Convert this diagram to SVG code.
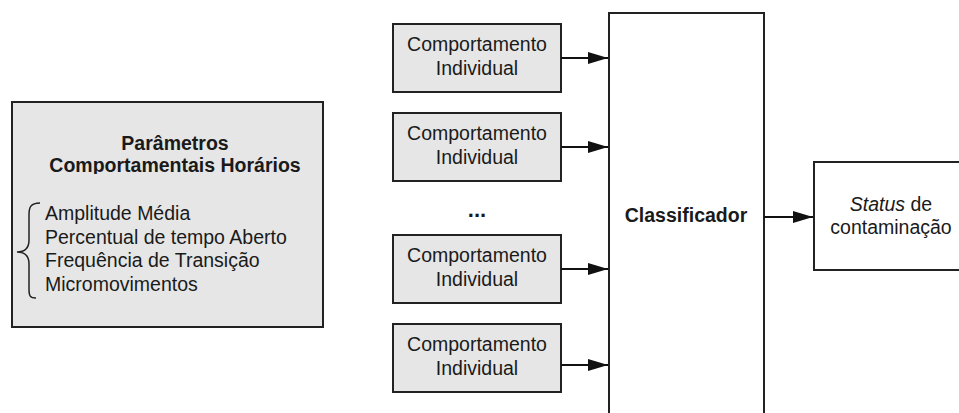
<svg xmlns="http://www.w3.org/2000/svg" width="959" height="413" viewBox="0 0 959 413">
<style>
text{font-family:"Liberation Sans",Arial,sans-serif;fill:#1a1a1a}
.box{fill:#e6e6e6;stroke:#222;stroke-width:2}
.wbox{fill:#fff;stroke:#222;stroke-width:2}
.lbl{font-size:19.5px;text-anchor:middle}
.b{font-weight:bold}
.conn{stroke:#111;stroke-width:2;fill:none}
</style>
<defs>
<marker id="ah" markerWidth="20" markerHeight="12" refX="20" refY="6" orient="auto" markerUnits="userSpaceOnUse">
<path d="M0,0 L20,6 L0,12 Z" fill="#111"/>
</marker>
<clipPath id="titleclip"><rect x="12" y="102" width="311" height="72"/></clipPath>
</defs>
<rect width="959" height="413" fill="#fff"/>
<g id="params">
<rect class="box" x="12" y="102" width="311" height="225"/>
<text class="b" x="175" y="150" font-size="19.5" text-anchor="middle">Parâmetros</text>
<text class="b" x="175" y="172" font-size="19.5" text-anchor="middle" clip-path="url(#titleclip)">Comportamentais Horários</text>
<path d="M40,203 C30,203 29,208 29,215 L29,240 C29,248 25,252 17,252 C25,252 29,256 29,264 L29,289 C29,296 30,298 36,298" fill="none" stroke="#222" stroke-width="1.5"/>
<text x="45" y="220" font-size="19.5">Amplitude Média</text>
<text x="45" y="244" font-size="19.5">Percentual de tempo Aberto</text>
<text x="45" y="267" font-size="19.5">Frequência de Transição</text>
<text x="45" y="291" font-size="19.5">Micromovimentos</text>
</g>
<g id="ind1">
<rect class="box" x="393" y="24" width="168" height="68"/>
<text class="lbl" x="477" y="51">Comportamento</text>
<text class="lbl" x="477" y="75">Individual</text>
</g>
<g id="ind2">
<rect class="box" x="393" y="113" width="168" height="68"/>
<text class="lbl" x="477" y="140">Comportamento</text>
<text class="lbl" x="477" y="164">Individual</text>
</g>
<g id="dots">
<text class="b" x="477" y="217" font-size="22" text-anchor="middle">...</text>
</g>
<g id="ind3">
<rect class="box" x="393" y="235" width="168" height="68"/>
<text class="lbl" x="477" y="262">Comportamento</text>
<text class="lbl" x="477" y="286">Individual</text>
</g>
<g id="ind4">
<rect class="box" x="393" y="324" width="168" height="68"/>
<text class="lbl" x="477" y="351">Comportamento</text>
<text class="lbl" x="477" y="375">Individual</text>
</g>
<g id="classificador">
<rect class="wbox" x="609" y="13" width="155" height="410"/>
<text class="b" x="686" y="222" font-size="19.5" text-anchor="middle">Classificador</text>
</g>
<g id="status">
<rect class="wbox" x="814" y="162" width="160" height="108"/>
<text class="lbl" x="891" y="211"><tspan font-style="italic">Status</tspan> de</text>
<text class="lbl" x="891" y="234">contaminação</text>
</g>
<g id="connectors">
<line class="conn" x1="561" y1="58" x2="608" y2="58" marker-end="url(#ah)"/>
<line class="conn" x1="561" y1="147" x2="608" y2="147" marker-end="url(#ah)"/>
<line class="conn" x1="561" y1="269" x2="608" y2="269" marker-end="url(#ah)"/>
<line class="conn" x1="561" y1="365" x2="608" y2="365" marker-end="url(#ah)"/>
<line class="conn" x1="764" y1="217" x2="813" y2="217" marker-end="url(#ah)"/>
</g>
</svg>
